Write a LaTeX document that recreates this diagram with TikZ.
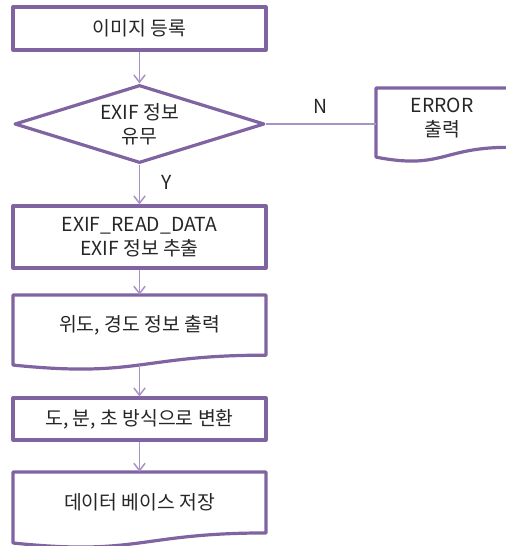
\documentclass[tikz,border=0pt]{standalone}
\usepackage{fontspec}
\setmainfont{Noto Sans CJK KR}
\usetikzlibrary{arrows.meta,shapes.geometric,calc}
\definecolor{bord}{HTML}{8064A2}
\definecolor{conn}{HTML}{A893C9}
\newcommand\docpath[5]{%
  \draw[bordline] (#2,#3) -- ({#2+#4},#3) -- ({#2+#4},{#3+0.802*#5})
    .. controls ({#2+0.5*#4},{#3+0.802*#5}) and ({#2+0.5*#4},{#3+1.1075*#5}) ..
    (#2,{#3+0.934*#5}) -- cycle;
  \coordinate (#1) at ({#2+0.5*#4},{#3+0.933*#5});}
\begin{document}
\begin{tikzpicture}[x=0.75pt,y=-0.75pt,
  every node/.style={font=\fontsize{14.5pt}{18pt}\selectfont, text=black!85, align=center},
  bordline/.style={draw=bord, line width=2.4pt, line join=round},
  procbox/.style={bordline, rectangle, minimum width=189.75pt, inner sep=0pt},
  decision/.style={bordline, diamond, minimum width=187.5pt, minimum height=58.5pt, aspect=3.2, inner sep=0pt},
  doctext/.style={rectangle, minimum width=189.75pt, inner sep=0pt},
  conn/.style={draw=conn, line width=1.1pt, -{Straight Barb[length=5.5pt,width=8.5pt]}},
  lbl/.style={inner sep=0pt}]
\useasboundingbox (0,0) rectangle (506,546);
\fill[white] (0,0) rectangle (506,546);
% nodes
\node[procbox, minimum height=32.25pt] (b1) at (139.5,28.5) {이미지 등록};
\node[decision] (dia) at (139.5,124) {EXIF 정보\\유무};
\docpath{errb}{376}{88}{132}{74}
\node[doctext, minimum width=99pt, minimum height=44.5pt] (err) at (442,117.7) {ERROR\\출력};
\node[procbox, minimum height=46.5pt] (b2) at (139.5,237) {EXIF\_READ\_DATA\\EXIF 정보 추출};
\docpath{d3b}{13}{295}{253}{75}
\node[doctext, minimum height=45pt] (d3) at (139.5,325) {위도, 경도 정보 출력};
\node[procbox, minimum height=31.5pt] (b4) at (139.5,419) {도, 분, 초 방식으로 변환};
\docpath{d5b}{13}{472}{253}{76}
\node[doctext, minimum height=45.75pt] (d5) at (139.5,502.5) {데이터 베이스 저장};
\node[lbl] (nl) at (320,106) {N};
\node[lbl] (yl) at (167,182) {Y};
% connectors
\draw[conn] (b1.south) -- (dia.north);
\draw[conn] (dia.south) -- (b2.north);
\draw[draw=conn, line width=1.1pt] (dia.east) -- (dia.east -| err.west);
\draw[conn] (b2.south) -- (d3.north);
\draw[conn] (d3b) -- (b4.north);
\draw[conn] (b4.south) -- (d5.north);
\end{tikzpicture}
\end{document}
